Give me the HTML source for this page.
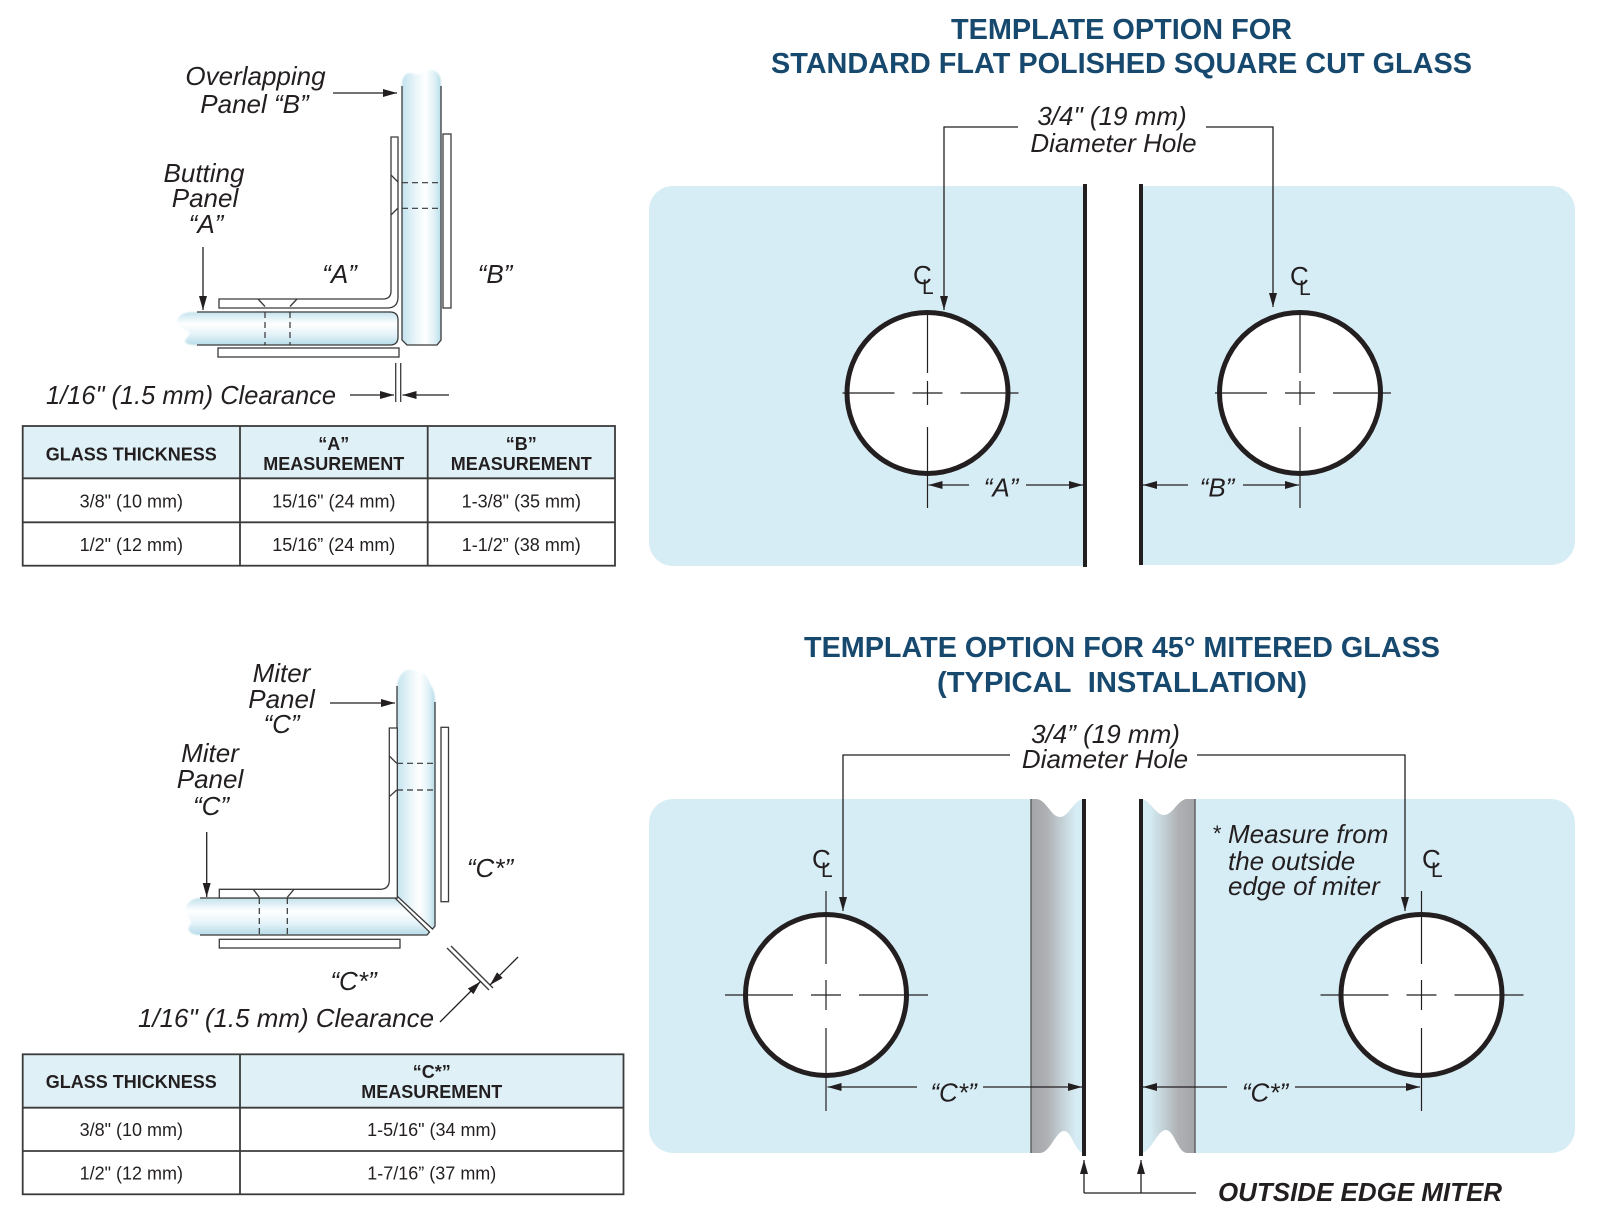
<!DOCTYPE html>
<html><head><meta charset="utf-8">
<style>
html,body{margin:0;padding:0;background:#fff;}
svg{display:block;}
text{font-family:"Liberation Sans",Arial,Helvetica,sans-serif;fill:#231f20;}
.it{font-style:italic;font-size:26px;}
.tt{font-weight:bold;font-size:29px;fill:#17496f;}
.th{font-weight:bold;font-size:18px;}
.td{font-size:18px;}
.ln{stroke:#231f20;stroke-width:1.3;fill:none;}
.ol{stroke:#3a3a3a;stroke-width:1.3;fill:none;}
.pl{stroke:#3a3a3a;stroke-width:1.3;fill:#fff;}
.ds{stroke:#333;stroke-width:1.2;stroke-dasharray:6 4;fill:none;}
.cl{stroke:#231f20;stroke-width:1.2;fill:none;}
.hole{fill:#fff;stroke:#231f20;stroke-width:5;}
</style></head><body>
<svg width="1600" height="1213" viewBox="0 0 1600 1213" xmlns="http://www.w3.org/2000/svg">
<defs>
<marker id="a" viewBox="0 0 14 8" refX="14" refY="4" markerWidth="14" markerHeight="8" markerUnits="userSpaceOnUse" orient="auto-start-reverse"><path d="M0,0L14,4L0,8z" fill="#231f20"/></marker>
<linearGradient id="gv" x1="0" y1="0" x2="1" y2="0">
<stop offset="0" stop-color="#c2e2ed"/><stop offset="0.3" stop-color="#e4f3f8"/><stop offset="0.6" stop-color="#ffffff"/><stop offset="0.85" stop-color="#dcf0f6"/><stop offset="1" stop-color="#b6dbe8"/>
</linearGradient>
<linearGradient id="gh" x1="0" y1="0" x2="0" y2="1">
<stop offset="0" stop-color="#c2e2ed"/><stop offset="0.35" stop-color="#ffffff"/><stop offset="0.7" stop-color="#e2f2f8"/><stop offset="1" stop-color="#b6dbe8"/>
</linearGradient>
<linearGradient id="gl" x1="0" y1="0" x2="1" y2="0">
<stop offset="0" stop-color="#a3a5a8"/><stop offset="0.3" stop-color="#aeb0b3"/><stop offset="0.65" stop-color="#c8d8de"/><stop offset="0.85" stop-color="#d6ecf4"/><stop offset="1" stop-color="#d7edf5"/>
</linearGradient>
<linearGradient id="gr" x1="1" y1="0" x2="0" y2="0">
<stop offset="0" stop-color="#a3a5a8"/><stop offset="0.3" stop-color="#aeb0b3"/><stop offset="0.65" stop-color="#c8d8de"/><stop offset="0.85" stop-color="#d6ecf4"/><stop offset="1" stop-color="#d7edf5"/>
</linearGradient>
<filter id="bl" x="-5%" y="-5%" width="110%" height="110%"><feGaussianBlur stdDeviation="0.9"/></filter>
</defs>

<!-- ============ TOP LEFT DIAGRAM ============ -->
<text class="it" x="255.5" y="85" text-anchor="middle">Overlapping</text>
<text class="it" x="254.5" y="113" text-anchor="middle">Panel “B”</text>
<line class="ln" x1="333" y1="93" x2="397" y2="93" marker-end="url(#a)"/>
<text class="it" x="204" y="182" text-anchor="middle">Butting</text>
<text class="it" x="205" y="207" text-anchor="middle">Panel</text>
<text class="it" x="206" y="233" text-anchor="middle">“A”</text>
<line class="ln" x1="203" y1="247" x2="203" y2="310" marker-end="url(#a)"/>
<text class="it" x="339.5" y="283" text-anchor="middle">“A”</text>
<text class="it" x="495" y="283" text-anchor="middle">“B”</text>

<!-- glass B vertical -->
<path d="M402,84 C402,75 408,71 414,74 C420,77 426,69 432,70 C438,71 441,76 441,84 L441,340 L437,345 L407,345 L402,340 Z" fill="url(#gv)" filter="url(#bl)"/>
<path class="ol" d="M402,86 V340 L407,345 H437 L441,340 V86"/>
<line class="ds" x1="402" y1="182.7" x2="441" y2="182.7"/>
<line class="ds" x1="402" y1="208.3" x2="441" y2="208.3"/>
<!-- glass A horizontal -->
<path d="M196,312 H390 Q398,312 398,320 V337 Q398,345 390,345 H196 C188,345 183,343 186,339 C189,335 192,332 186,330 C178,327 174,322 179,317 C182,313 188,312 196,312 Z" fill="url(#gh)" filter="url(#bl)"/>
<path class="ol" d="M197,312 H390 Q398,312 398,320 V337 Q398,345 390,345 H197"/>
<line class="ds" x1="265" y1="312" x2="265" y2="345"/>
<line class="ds" x1="290" y1="312" x2="290" y2="345"/>
<!-- L plate -->
<path class="pl" d="M391,137 H398 V297 Q398,308 387,308 H219 V299 H383 Q391,299 391,291 Z"/>
<path class="ol" d="M391,175 L398,182 M391,215 L398,208 M258,299 L265,306.5 M297,299 L290,306.5"/>
<rect class="pl" x="443" y="134" width="8" height="174"/>
<rect class="pl" x="218" y="348" width="181" height="9"/>
<!-- clearance -->
<line class="ol" x1="395.7" y1="363" x2="395.7" y2="402"/>
<line class="ol" x1="400.7" y1="363" x2="400.7" y2="402"/>
<line class="ln" x1="350" y1="395" x2="394" y2="395" marker-end="url(#a)"/>
<line class="ln" x1="449" y1="395" x2="402.5" y2="395" marker-end="url(#a)"/>
<text class="it" x="46" y="404" textLength="290" lengthAdjust="spacingAndGlyphs">1/16" (1.5 mm) Clearance</text>

<!-- TABLE 1 -->
<rect x="22.7" y="426" width="592.3" height="52.3" fill="#dff0f6"/>
<g stroke="#3b3b3b" stroke-width="1.8" fill="none">
<rect x="22.7" y="426" width="592.3" height="139.7"/>
<line x1="22.7" y1="478.3" x2="615" y2="478.3"/>
<line x1="22.7" y1="522.3" x2="615" y2="522.3"/>
<line x1="240" y1="426" x2="240" y2="565.7"/>
<line x1="427.7" y1="426" x2="427.7" y2="565.7"/>
</g>
<text class="th" x="131.3" y="460.5" text-anchor="middle">GLASS THICKNESS</text>
<text class="th" x="333.8" y="450" text-anchor="middle">“A”</text>
<text class="th" x="333.8" y="470" text-anchor="middle">MEASUREMENT</text>
<text class="th" x="521.3" y="450" text-anchor="middle">“B”</text>
<text class="th" x="521.3" y="470" text-anchor="middle">MEASUREMENT</text>
<text class="td" x="131.3" y="507.5" text-anchor="middle">3/8" (10 mm)</text>
<text class="td" x="333.8" y="507.5" text-anchor="middle">15/16" (24 mm)</text>
<text class="td" x="521.3" y="507.5" text-anchor="middle">1-3/8" (35 mm)</text>
<text class="td" x="131.3" y="551" text-anchor="middle">1/2" (12 mm)</text>
<text class="td" x="333.8" y="551" text-anchor="middle">15/16” (24 mm)</text>
<text class="td" x="521.3" y="551" text-anchor="middle">1-1/2” (38 mm)</text>

<!-- ============ BOTTOM LEFT DIAGRAM ============ -->
<text class="it" x="281.5" y="682" text-anchor="middle">Miter</text>
<text class="it" x="281.5" y="708" text-anchor="middle">Panel</text>
<text class="it" x="281.5" y="733" text-anchor="middle">“C”</text>
<line class="ln" x1="330" y1="703" x2="395" y2="703" marker-end="url(#a)"/>
<text class="it" x="210" y="762" text-anchor="middle">Miter</text>
<text class="it" x="210" y="788" text-anchor="middle">Panel</text>
<text class="it" x="211" y="815" text-anchor="middle">“C”</text>
<line class="ln" x1="206.7" y1="832" x2="206.7" y2="897" marker-end="url(#a)"/>
<text class="it" x="490" y="877" text-anchor="middle">“C*”</text>
<text class="it" x="353.5" y="990" text-anchor="middle">“C*”</text>

<!-- glass C vertical -->
<path d="M397,690 C397,676 404,668 412,670 C419,672 424,671 428,679 C431,686 435,690 435,700 L435,926 L432.5,929 L397,896 Z" fill="url(#gv)" filter="url(#bl)"/>
<path class="ol" d="M397,686 V896 L432.5,929 L435,926 V702"/>
<line class="ds" x1="397" y1="763.3" x2="435" y2="763.3"/>
<line class="ds" x1="397" y1="790" x2="435" y2="790"/>
<!-- glass C horizontal -->
<path d="M200,898 H395 L429.5,932 L427,935 H200 C190,935 186,930 190,925 C194,920 184,915 186,908 C188,901 194,898 200,898 Z" fill="url(#gh)" filter="url(#bl)"/>
<path class="ol" d="M200,898 H395 L429.5,932 L427,935 H200"/>
<line class="ds" x1="259.3" y1="898" x2="259.3" y2="935"/>
<line class="ds" x1="287.3" y1="898" x2="287.3" y2="935"/>
<!-- L plate -->
<path class="pl" d="M389.3,728 H397.3 V898 H219.3 V889.3 H380 Q389.3,889.3 389.3,880 Z"/>
<path class="ol" d="M389.3,756 L396.7,763.3 M389.3,796.7 L396.7,790 M253.3,889.3 L259.3,897.3 M294,889.3 L287.3,897.3"/>
<rect class="pl" x="441" y="727.3" width="7.5" height="174.4"/>
<rect class="pl" x="219.3" y="939.3" width="180.7" height="8.7"/>
<!-- clearance diag -->
<line class="ol" x1="447" y1="948" x2="489" y2="990"/>
<line class="ol" x1="451" y1="946" x2="493" y2="988"/>
<line class="ln" x1="518" y1="957" x2="490" y2="985" marker-end="url(#a)"/>
<line class="ln" x1="440" y1="1022" x2="480.5" y2="981.5" marker-end="url(#a)"/>
<text class="it" x="138" y="1027" textLength="296" lengthAdjust="spacingAndGlyphs">1/16" (1.5 mm) Clearance</text>

<!-- TABLE 2 -->
<rect x="22.7" y="1054.3" width="600.8" height="53.4" fill="#dff0f6"/>
<g stroke="#3b3b3b" stroke-width="1.8" fill="none">
<rect x="22.7" y="1054.3" width="600.8" height="140"/>
<line x1="22.7" y1="1107.7" x2="623.5" y2="1107.7"/>
<line x1="22.7" y1="1151" x2="623.5" y2="1151"/>
<line x1="240" y1="1054.3" x2="240" y2="1194.3"/>
</g>
<text class="th" x="131.3" y="1088" text-anchor="middle">GLASS THICKNESS</text>
<text class="th" x="431.8" y="1078" text-anchor="middle">“C*”</text>
<text class="th" x="431.8" y="1098" text-anchor="middle">MEASUREMENT</text>
<text class="td" x="131.3" y="1136" text-anchor="middle">3/8" (10 mm)</text>
<text class="td" x="431.8" y="1136" text-anchor="middle">1-5/16" (34 mm)</text>
<text class="td" x="131.3" y="1179.5" text-anchor="middle">1/2" (12 mm)</text>
<text class="td" x="431.8" y="1179.5" text-anchor="middle">1-7/16” (37 mm)</text>

<!-- ============ TOP TEMPLATE ============ -->
<text class="tt" x="1121.5" y="39" text-anchor="middle" textLength="341" lengthAdjust="spacingAndGlyphs">TEMPLATE OPTION FOR</text>
<text class="tt" x="1121.5" y="73" text-anchor="middle" textLength="701" lengthAdjust="spacingAndGlyphs">STANDARD FLAT POLISHED SQUARE CUT GLASS</text>

<path d="M673,186 H1085 V566 H673 A24,24 0 0 1 649,542 V210 A24,24 0 0 1 673,186 Z" fill="#d7edf5"/>
<path d="M1141,186 H1551 A24,24 0 0 1 1575,210 V541 A24,24 0 0 1 1551,565 H1141 Z" fill="#d7edf5"/>
<rect x="1083" y="184" width="4" height="383" fill="#231f20"/>
<rect x="1139" y="184" width="4" height="381" fill="#231f20"/>

<text class="it" x="1112" y="125" text-anchor="middle">3/4" (19 mm)</text>
<text class="it" x="1113.5" y="152" text-anchor="middle">Diameter Hole</text>
<polyline class="ln" points="1018,127 944,127 944,310" marker-end="url(#a)"/>
<polyline class="ln" points="1206,127 1273,127 1273,307" marker-end="url(#a)"/>

<!-- left hole -->
<circle class="hole" cx="927.5" cy="393" r="80.5"/>
<path class="cl" d="M842.5,393 H894.5 M912.5,393 H942.5 M960.5,393 H1018.5 M927.5,312 V373 M927.5,381 V405 M927.5,427 V508"/>
<text x="913" y="284" font-size="26">C</text>
<text x="922" y="294" font-size="21">L</text>
<!-- right hole -->
<circle class="hole" cx="1300" cy="393" r="80.5"/>
<path class="cl" d="M1215,393 H1267 M1285,393 H1315 M1333,393 H1391 M1300,312 V373 M1300,381 V405 M1300,427 V508"/>
<text x="1290" y="285" font-size="26">C</text>
<text x="1299" y="295" font-size="21">L</text>

<!-- A / B dims -->
<line class="ln" x1="969" y1="485" x2="928.5" y2="485" marker-end="url(#a)"/>
<line class="ln" x1="1026" y1="485" x2="1083" y2="485" marker-end="url(#a)"/>
<text class="it" x="1001" y="496.5" text-anchor="middle">“A”</text>
<line class="ln" x1="1188" y1="485" x2="1143" y2="485" marker-end="url(#a)"/>
<line class="ln" x1="1243" y1="485" x2="1299" y2="485" marker-end="url(#a)"/>
<text class="it" x="1217" y="496.5" text-anchor="middle">“B”</text>

<!-- ============ BOTTOM TEMPLATE ============ -->
<text class="tt" x="1122" y="657" text-anchor="middle" textLength="636" lengthAdjust="spacingAndGlyphs">TEMPLATE OPTION FOR 45° MITERED GLASS</text>
<text class="tt" x="1122" y="692" text-anchor="middle" textLength="370" lengthAdjust="spacingAndGlyphs">(TYPICAL&#160; INSTALLATION)</text>

<path d="M673,799 H1031 V1153 H673 A24,24 0 0 1 649,1129 V823 A24,24 0 0 1 673,799 Z" fill="#d7edf5"/>
<path d="M1031,799 H1036 C1046,799 1051,817 1060,817 C1069,817 1074,799 1084,799 V1153 C1075,1153 1072,1131 1064,1131 C1056,1131 1050,1153 1040,1153 H1031 Z" fill="url(#gl)"/>
<path d="M1195,799 H1551 A24,24 0 0 1 1575,823 V1129 A24,24 0 0 1 1551,1153 H1195 Z" fill="#d7edf5"/>
<path d="M1141,799 C1150,799 1155,815 1164,815 C1173,815 1178,799 1187,799 H1195 V1153 H1187 C1178,1153 1174,1130 1166,1130 C1157,1130 1151,1153 1141,1153 Z" fill="url(#gr)"/>
<line x1="1031" y1="799" x2="1031" y2="1153" stroke="#555" stroke-width="1.3"/>
<line x1="1195" y1="799" x2="1195" y2="1153" stroke="#555" stroke-width="1.3"/>
<rect x="1082" y="799" width="4" height="357" fill="#231f20"/>
<rect x="1139" y="799" width="4" height="357" fill="#231f20"/>

<text class="it" x="1105.5" y="743" text-anchor="middle">3/4” (19 mm)</text>
<text class="it" x="1105" y="768" text-anchor="middle">Diameter Hole</text>
<polyline class="ln" points="1010,755 843,755 843,911" marker-end="url(#a)"/>
<polyline class="ln" points="1197,755 1405,755 1405,911" marker-end="url(#a)"/>

<!-- left hole -->
<circle class="hole" cx="826" cy="995" r="80.5"/>
<path class="cl" d="M725,995 H793 M811,995 H841 M859,995 H928 M826,891 V964 M826,980 V1010 M826,1028 V1111"/>
<text x="812" y="868" font-size="26">C</text>
<text x="821" y="877" font-size="21">L</text>
<!-- right hole -->
<circle class="hole" cx="1421.5" cy="995" r="80.5"/>
<path class="cl" d="M1320.5,995 H1388.5 M1406.5,995 H1436.5 M1454.5,995 H1523.5 M1421.5,891 V964 M1421.5,980 V1010 M1421.5,1028 V1111"/>
<text x="1422" y="868" font-size="26">C</text>
<text x="1431" y="877" font-size="21">L</text>

<text x="1212" y="841" font-size="22" font-style="italic">*</text>
<text class="it" x="1228" y="843">Measure from</text>
<text class="it" x="1228" y="870">the outside</text>
<text class="it" x="1228" y="895">edge of miter</text>

<!-- C* dims -->
<line class="ln" x1="917" y1="1087" x2="827.5" y2="1087" marker-end="url(#a)"/>
<line class="ln" x1="983" y1="1087" x2="1082" y2="1087" marker-end="url(#a)"/>
<text class="it" x="953.5" y="1101.5" text-anchor="middle">“C*”</text>
<line class="ln" x1="1227" y1="1087" x2="1143" y2="1087" marker-end="url(#a)"/>
<line class="ln" x1="1295" y1="1087" x2="1420" y2="1087" marker-end="url(#a)"/>
<text class="it" x="1265" y="1101.5" text-anchor="middle">“C*”</text>

<!-- outside edge miter -->
<line class="ln" x1="1084" y1="1193" x2="1084" y2="1160" marker-end="url(#a)"/>
<line class="ln" x1="1141" y1="1193" x2="1141" y2="1160" marker-end="url(#a)"/>
<line class="ln" x1="1084" y1="1193" x2="1196" y2="1193"/>
<text x="1218" y="1201" font-size="26" font-weight="bold" font-style="italic" textLength="284" lengthAdjust="spacingAndGlyphs">OUTSIDE EDGE MITER</text>
</svg>
</body></html>
